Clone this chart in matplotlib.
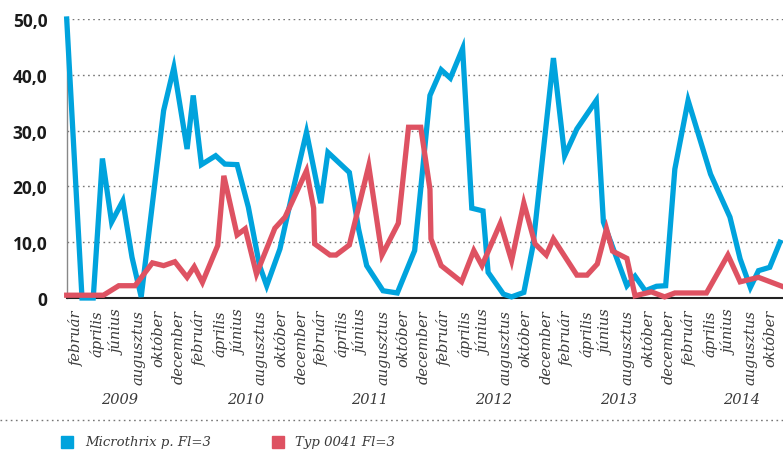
import matplotlib
matplotlib.use("Agg")
from matplotlib import pyplot as plt
from matplotlib.lines import Line2D
from matplotlib.patches import Rectangle

# months counted from january 2009 (0 = jan 2009)
micro_x = [0.0, 1.5, 2.6, 3.5, 4.4, 5.5, 6.4, 7.3, 9.5, 10.5, 11.8, 12.4, 13.2, 14.6, 15.5,
           16.7, 17.8, 18.9, 19.6, 20.9, 22.2, 23.5, 24.9, 25.6, 27.7, 28.6, 29.4, 31.0,
           32.4, 34.1, 35.6, 36.7, 37.6, 38.8, 39.7, 40.8, 41.3, 42.8, 43.6, 44.8, 45.7,
           47.7, 48.8, 50.0, 51.9, 52.6, 54.9, 55.7, 56.7, 57.8, 58.7, 59.6, 60.9, 63.1,
           65.0, 66.0, 67.0, 67.8, 68.9, 69.9]
micro_y = [50.0, 0.0, 0.0, 25.0, 13.6, 17.4, 7.3, 0.2, 33.6, 41.3, 26.7, 36.3, 23.9, 25.5, 24.0,
           23.9, 16.3, 5.8, 2.2, 8.8, 19.5, 29.7, 17.0, 26.1, 22.5, 12.4, 5.8, 1.3,
           0.9, 8.5, 36.3, 40.9, 39.4, 44.7, 16.1, 15.6, 4.6, 0.7, 0.2, 1.0, 9.4,
           43.0, 25.5, 30.3, 35.4, 13.6, 2.2, 3.9, 1.3, 2.1, 2.2, 23.1, 35.4, 22.2,
           14.5, 7.0, 1.9, 4.9, 5.5, 10.0]

typ_x = [0.0, 3.6, 5.1, 6.7, 8.4, 9.5, 10.6, 11.8, 12.5, 13.3, 14.8, 15.4, 16.7, 17.5, 18.6,
         20.4, 21.4, 23.5, 24.2, 24.3, 25.8, 26.4, 27.7, 29.6, 30.9, 32.5, 33.5, 34.7,
         35.6, 35.7, 36.7, 38.7, 39.9, 40.7, 42.5, 43.6, 44.8, 45.9, 47.0, 47.7, 50.0,
         51.0, 52.0, 52.9, 53.5, 54.9, 55.7, 57.3, 58.6, 59.6, 62.7, 64.8, 66.0, 67.8, 70.1]
typ_y = [0.5, 0.5, 2.2, 2.2, 6.3, 5.8, 6.5, 3.7, 5.6, 2.8, 9.4, 21.9, 11.3, 12.4, 4.3,
         12.5, 14.5, 22.8, 16.1, 9.7, 7.7, 7.7, 9.5, 23.7, 7.7, 13.4, 30.6, 30.6,
         19.5, 10.6, 5.8, 2.9, 8.5, 5.8, 13.4, 6.7, 17.0, 9.7, 7.7, 10.6, 4.1,
         4.1, 6.1, 12.4, 8.4, 7.1, 0.4, 1.1, 0.2, 0.9, 0.9, 7.7, 2.9, 3.7, 2.1]

month_names = ["február", "április", "június", "augusztus", "október", "december"]
tick_labels = (month_names * 6)[:35]
tick_pos = [1 + 2 * i for i in range(35)]

years = ["2009", "2010", "2011", "2012", "2013", "2014"]
year_pos = [5.2, 17.5, 29.7, 41.8, 54.1, 66.1]

series_names = ["Microthrix p. Fl=3", "Typ 0041 Fl=3"]

blue = "#00a3dd"
red = "#de5262"
txt = "#3a3a3a"
serif = "DejaVu Serif"

fig = plt.figure(figsize=(7.83, 4.52), dpi=100)
ax = fig.add_axes([66.7 / 783, 153 / 452, (783 - 66.7) / 783, 279 / 452])

ax.plot(micro_x, micro_y, color=blue, lw=3.8, solid_joinstyle="miter", clip_on=False, zorder=3)
ax.plot(typ_x, typ_y, color=red, lw=3.8, solid_joinstyle="miter", clip_on=False, zorder=4)

ax.set_xlim(0, 70.2)
ax.set_ylim(0, 50)

ax.set_yticks([0, 10, 20, 30, 40, 50])
ax.set_yticklabels(["0", "10,0", "20,0", "30,0", "40,0", "50,0"],
                   fontsize=12.5, fontweight="bold", family="Open Sans", color="#1a1a1a")
for y in [10, 20, 30, 40, 50]:
    ax.axhline(y, color="#777777", lw=1.0, ls=(0, (1.2, 2.5)), zorder=1)

ax.set_xticks(tick_pos)
ax.set_xticklabels(tick_labels, rotation=90, fontsize=10.5, style="italic",
                   family=serif, color=txt)
ax.tick_params(axis="x", length=0, pad=8)
ax.tick_params(axis="y", length=0, pad=14)

for s in ["top", "right"]:
    ax.spines[s].set_visible(False)
ax.spines["left"].set_color("#888888")
ax.spines["left"].set_linewidth(1.0)
ax.spines["bottom"].set_color("#222222")
ax.spines["bottom"].set_linewidth(1.5)

# year labels sit about 101 px below the baseline
for pos, yr in zip(year_pos, years):
    ax.text(pos, -101 / 279, yr, transform=ax.get_xaxis_transform(), ha="center", va="center",
            fontsize=10.5, style="italic", family=serif, color=txt)

fig.add_artist(Line2D([0, 1], [1 - 421 / 452] * 2, color="#777777", lw=1.0,
                      ls=(0, (1.2, 2.5))))

# legend drawn by hand
leg_y = 1 - 443 / 452
for sq_x, col, name, tx in [(61, blue, series_names[0], 85), (272, red, series_names[1], 295)]:
    fig.add_artist(Rectangle((sq_x / 783, leg_y - 6 / 452), 12 / 783, 12 / 452,
                             color=col, transform=fig.transFigure))
    fig.text(tx / 783, leg_y, name, ha="left", va="center", fontsize=9.5,
             style="italic", family=serif, color=txt)

plt.savefig("out.png", dpi=100)
